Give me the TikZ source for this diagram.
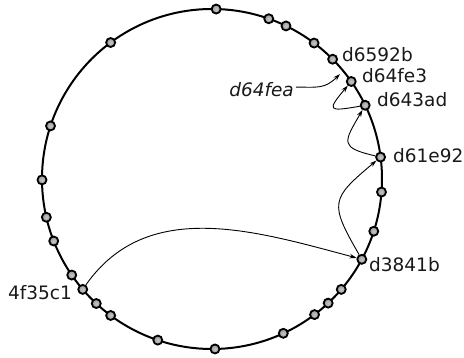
\documentclass[tikz,border=0pt]{standalone}
\usepackage{fontspec}
\setmainfont{DejaVu Sans}
\usetikzlibrary{arrows.meta,calc}
\begin{document}
\begin{tikzpicture}[x=1pt,y=1pt,
  dot/.style={circle,draw=black,line width=1.8pt,inner color=gray!45,outer color=gray!80,minimum size=9pt,inner sep=0pt},
  lbl/.style={font=\fontsize{18.5}{20}\selectfont,inner sep=0pt,text=black!90},
  ilbl/.style={font=\fontsize{18.5}{20}\selectfont\itshape,inner sep=0pt,text=black!90},
  link/.style={line width=0.9pt,-{Stealth[length=7pt,width=4.5pt]}}]
\useasboundingbox (0,0) rectangle (464,358);
\coordinate (c) at (212,179);
\draw[line width=2pt] (c) circle (170pt);
\foreach \a/\n in {88.6/p1,70.5/p2,64.2/p3,53.1/p4,44.8/d6592b,35.0/d64fe3,25.7/d643ad,7.4/d61e92,-4.4/p5,-17.9/p6,-28.2/d3841b,-40.5/p7,-46.9/p8,-52.9/p9,-65.2/p10,-89/p11,-108.6/p12,-126.6/p13,-132.9/p14,-139.5/n4f35c1,-145.6/p15,-158.6/p16,-167/p17,-179.7/p18,161.8/p19,126.6/p20}
  \node[dot] (\n) at ($(c)+(\a:170pt)$) {};
\node[lbl,anchor=base west] (t1) at (342,296) {d6592b};
\node[lbl,anchor=base west] (t2) at (362,275) {d64fe3};
\node[lbl,anchor=base west] (t3) at (377,251) {d643ad};
\node[lbl,anchor=base west] (t4) at (393,195) {d61e92};
\node[lbl,anchor=base west] (t5) at (369,86) {d3841b};
\node[lbl,anchor=base east] (t6) at (72,58) {4f35c1};
\node[ilbl,anchor=base east] (t7) at (294,261) {d64fea};
\coordinate (fea) at (340,284);
\draw[link] (n4f35c1) to[out=55,in=165] (d3841b);
\draw[link] (d3841b) to[out=120,in=220,looseness=1.6] (d61e92);
\draw[link] (d61e92) to[out=167,in=240,looseness=2] (d643ad);
\draw[link] (d643ad) to[out=190,in=230,looseness=3.5] (d64fe3);
\draw[link] ([shift={(2pt,3pt)}]t7.east) to[out=0,in=225,looseness=1.2] (fea);
\end{tikzpicture}
\end{document}
